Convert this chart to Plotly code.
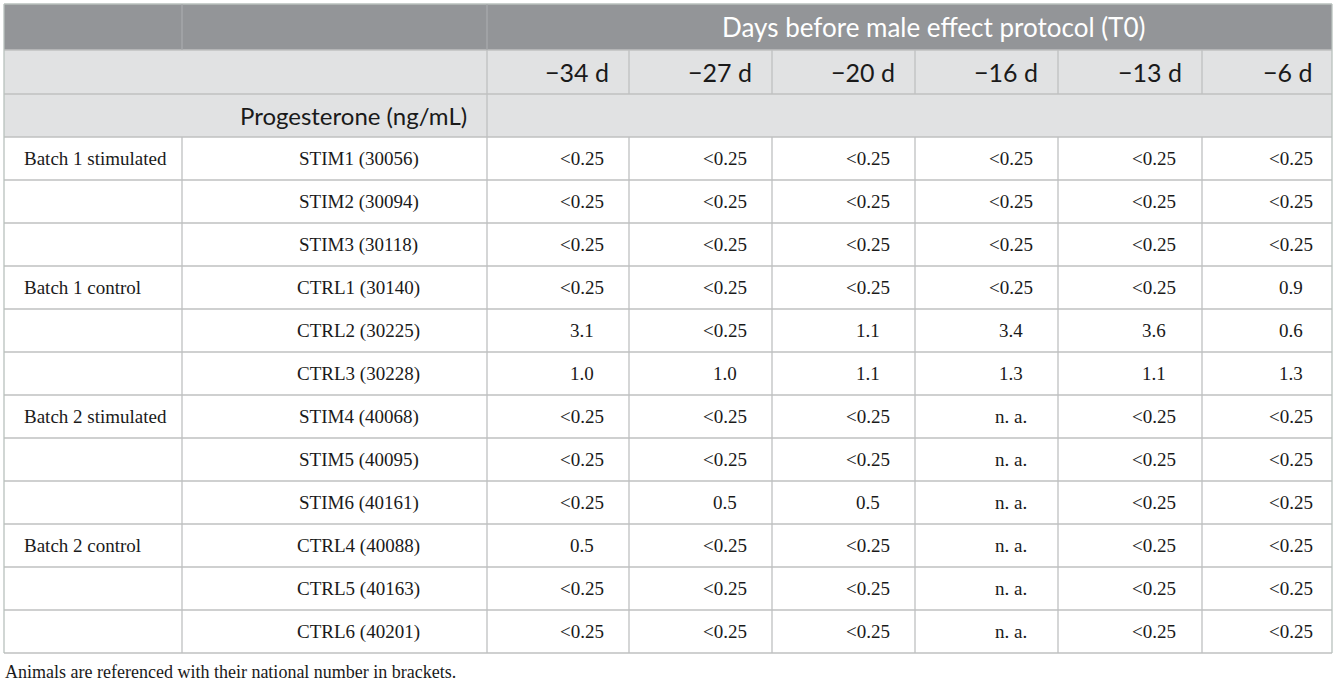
import plotly.graph_objects as go

# ---- table content ----
title_days = "Days before male effect protocol (T0)"
row_label = "Progesterone (ng/mL)"
days = ["\u221234 d", "\u221227 d", "\u221220 d", "\u221216 d", "\u221213 d", "\u22126 d"]

groups = ["Batch 1 stimulated", "", "", "Batch 1 control", "", "",
          "Batch 2 stimulated", "", "", "Batch 2 control", "", ""]
animals = ["STIM1 (30056)", "STIM2 (30094)", "STIM3 (30118)",
           "CTRL1 (30140)", "CTRL2 (30225)", "CTRL3 (30228)",
           "STIM4 (40068)", "STIM5 (40095)", "STIM6 (40161)",
           "CTRL4 (40088)", "CTRL5 (40163)", "CTRL6 (40201)"]

d34 = ["<0.25", "<0.25", "<0.25", "<0.25", "3.1", "1.0",
       "<0.25", "<0.25", "<0.25", "0.5", "<0.25", "<0.25"]
d27 = ["<0.25", "<0.25", "<0.25", "<0.25", "<0.25", "1.0",
       "<0.25", "<0.25", "0.5", "<0.25", "<0.25", "<0.25"]
d20 = ["<0.25", "<0.25", "<0.25", "<0.25", "1.1", "1.1",
       "<0.25", "<0.25", "0.5", "<0.25", "<0.25", "<0.25"]
d16 = ["<0.25", "<0.25", "<0.25", "<0.25", "3.4", "1.3",
       "n. a.", "n. a.", "n. a.", "n. a.", "n. a.", "n. a."]
d13 = ["<0.25", "<0.25", "<0.25", "<0.25", "3.6", "1.1",
       "<0.25", "<0.25", "<0.25", "<0.25", "<0.25", "<0.25"]
d6 = ["<0.25", "<0.25", "<0.25", "0.9", "0.6", "1.3",
      "<0.25", "<0.25", "<0.25", "<0.25", "<0.25", "<0.25"]
values = [d34, d27, d20, d16, d13, d6]

caption = "Animals are referenced with their national number in brackets."

# ---- layout (pixel grid) ----
W, H = 1337, 683
xs = [4, 182, 487, 629, 772, 915, 1058, 1202, 1332]
head_y = [4, 50, 94, 137]
row_h = 43
body_y = [head_y[-1] + row_h * i for i in range(len(animals) + 1)]

dark = "#939598"
light = "#e1e2e3"
grid = "#bfc0c1"
edge = "#b9c1bd"
ink = "#1a1a1a"
hfont = "Lato"
bfont = "Liberation Serif"

shapes = []
ann = []


def rect(x0, x1, y0, y1, color):
    shapes.append(dict(type="rect", xref="x", yref="y", x0=x0, x1=x1, y0=y0, y1=y1,
                       fillcolor=color, line=dict(width=0), layer="below"))


def line(x0, x1, y0, y1, color=grid, w=1.3):
    shapes.append(dict(type="line", xref="x", yref="y", x0=x0, x1=x1, y0=y0, y1=y1,
                       line=dict(color=color, width=w)))


def text(x, y, s, anchor, font, size, color):
    ann.append(dict(x=x, y=y, xref="x", yref="y", text=s, showarrow=False,
                    xanchor=anchor, yanchor="middle",
                    font=dict(family=font, size=size, color=color)))


# header fills
rect(xs[0], xs[-1], head_y[0], head_y[1], dark)
rect(xs[0], xs[-1], head_y[1], head_y[3], light)

# horizontal rules
for y in head_y[1:] + body_y[1:]:
    line(xs[0], xs[-1], y, y)
line(xs[0], xs[-1], head_y[0], head_y[0], edge)

# vertical rules
line(xs[0], xs[0], head_y[0], body_y[-1], edge)
line(xs[-1], xs[-1], head_y[0], body_y[-1], edge)
line(xs[1], xs[1], head_y[0], head_y[1], "#a8aaac")
line(xs[2], xs[2], head_y[0], head_y[1], "#a8aaac")
for x in xs[2:-1]:
    line(x, x, head_y[1], head_y[2])
line(xs[2], xs[2], head_y[2], head_y[3])
for x in xs[1:-1]:
    line(x, x, body_y[0], body_y[-1])

# header text
mid = lambda a, b: (a + b) / 2
text(mid(xs[2], xs[-1]) + 24, mid(head_y[0], head_y[1]), title_days, "center", hfont, 26, "white")
for j, d in enumerate(days):
    text(xs[j + 3] - 18, mid(head_y[1], head_y[2]), d, "right", hfont, 25, ink)
text(xs[2] - 18, mid(head_y[2], head_y[3]), row_label, "right", hfont, 24, ink)

# body text
for i in range(len(animals)):
    yc = mid(body_y[i], body_y[i + 1])
    if groups[i]:
        text(xs[0] + 18, yc, groups[i], "left", bfont, 19, ink)
    text(mid(xs[1], xs[2]) + 24, yc, animals[i], "center", bfont, 19, ink)
    for j, col in enumerate(values):
        text(mid(xs[j + 2], xs[j + 3]) + 24, yc, col[i], "center", bfont, 19, ink)

text(xs[0] - 1, body_y[-1] + 19, caption, "left", bfont, 18, ink)

fig = go.Figure()
fig.update_layout(
    width=W, height=H,
    margin=dict(l=0, r=0, t=0, b=0),
    paper_bgcolor="white", plot_bgcolor="white",
    xaxis=dict(range=[0, W], visible=False, fixedrange=True),
    yaxis=dict(range=[H, 0], visible=False, fixedrange=True),
    shapes=shapes, annotations=ann, showlegend=False,
)
fig.write_html("out.html", config={"displayModeBar": False},
               post_script="document.body.style.margin='0';document.body.style.overflow='hidden';")
